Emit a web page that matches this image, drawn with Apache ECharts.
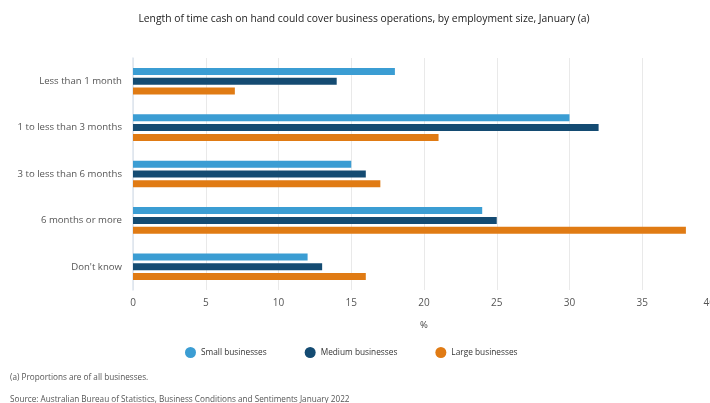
<!DOCTYPE html>
<html>
<head>
<meta charset="utf-8">
<script src="https://cdn.jsdelivr.net/npm/echarts@6/dist/echarts.min.js"></script>
<style>
  html, body { margin: 0; padding: 0; background: #fff; }
  #chart { width: 710px; height: 403px; }
</style>
</head>
<body>
<div id="chart"></div>
<script>
// Cash-on-hand coverage categories (top to bottom)
const categories = [
  'Less than 1 month',
  '1 to less than 3 months',
  '3 to less than 6 months',
  '6 months or more',
  "Don't know"
];
// Percent of businesses, by employment size
const smallBusinesses  = [18, 30, 15, 24, 12];
const mediumBusinesses = [14, 32, 16, 25, 13];
const largeBusinesses  = [7, 21, 17, 38, 16];
const xTicks = [0, 5, 10, 15, 20, 25, 30, 35, 40];

const FONT = '"Open Sans", "Noto Sans", sans-serif';
const colors = ['#3b9dd3', '#144b72', '#e07b14'];

const chart = echarts.init(document.getElementById('chart'), null, { renderer: 'canvas' });

const barBase = {
  type: 'bar',
  barWidth: 7,
  barGap: '40%',
  barCategoryGap: '40%'
};

chart.setOption({
  animation: false,
  textStyle: { fontFamily: FONT },
  title: {
    text: 'Length of time cash on hand could cover business operations, by employment size, January (a)',
    left: 359,
    textAlign: 'center',
    top: 9,
    textStyle: { fontFamily: FONT, fontSize: 10.3, fontWeight: 'normal', color: '#222' }
  },
  legend: {
    data: ['Small businesses', 'Medium businesses', 'Large businesses'],
    top: 342,
    left: 180,
    icon: 'circle',
    itemWidth: 11,
    itemHeight: 11,
    itemGap: 38,
    itemStyle: { borderWidth: 0 },
    textStyle: { fontFamily: FONT, fontSize: 8.3, color: '#333' }
  },
  grid: { left: 133, top: 58, width: 582, height: 232, outerBoundsMode: 'none' },
  xAxis: {
    type: 'value',
    min: xTicks[0],
    max: xTicks[xTicks.length - 1],
    interval: 5,
    name: '%',
    nameLocation: 'middle',
    nameGap: 30,
    nameTextStyle: { fontFamily: FONT, fontSize: 9.5, color: '#444' },
    axisLine: { show: false },
    axisTick: { show: false },
    axisLabel: {
      fontFamily: FONT, fontSize: 10, color: '#555', margin: 8,
      alignMaxLabel: 'right', showMaxLabel: true
    },
    splitLine: { show: true, lineStyle: { color: '#e9e9e9', width: 1 } }
  },
  yAxis: {
    type: 'category',
    data: categories,
    inverse: true,
    axisLine: { show: true, lineStyle: { color: '#dde4ee', width: 1.5 } },
    axisTick: { show: false },
    axisLabel: { fontFamily: FONT, fontSize: 9.6, color: '#555', margin: 11 }
  },
  series: [
    Object.assign({ name: 'Small businesses', data: smallBusinesses, itemStyle: { color: colors[0] } }, barBase),
    Object.assign({ name: 'Medium businesses', data: mediumBusinesses, itemStyle: { color: colors[1] } }, barBase),
    Object.assign({ name: 'Large businesses', data: largeBusinesses, itemStyle: { color: colors[2] } }, barBase)
  ],
  graphic: [
    {
      type: 'text', left: 10, top: 374,
      style: { text: '(a) Proportions are of all businesses.', font: '8.2px ' + FONT, fill: '#555' }
    },
    {
      type: 'text', left: 10, top: 396,
      style: { text: 'Source: Australian Bureau of Statistics, Business Conditions and Sentiments January 2022', font: '8.2px ' + FONT, fill: '#555' }
    }
  ]
});
</script>
</body>
</html>
